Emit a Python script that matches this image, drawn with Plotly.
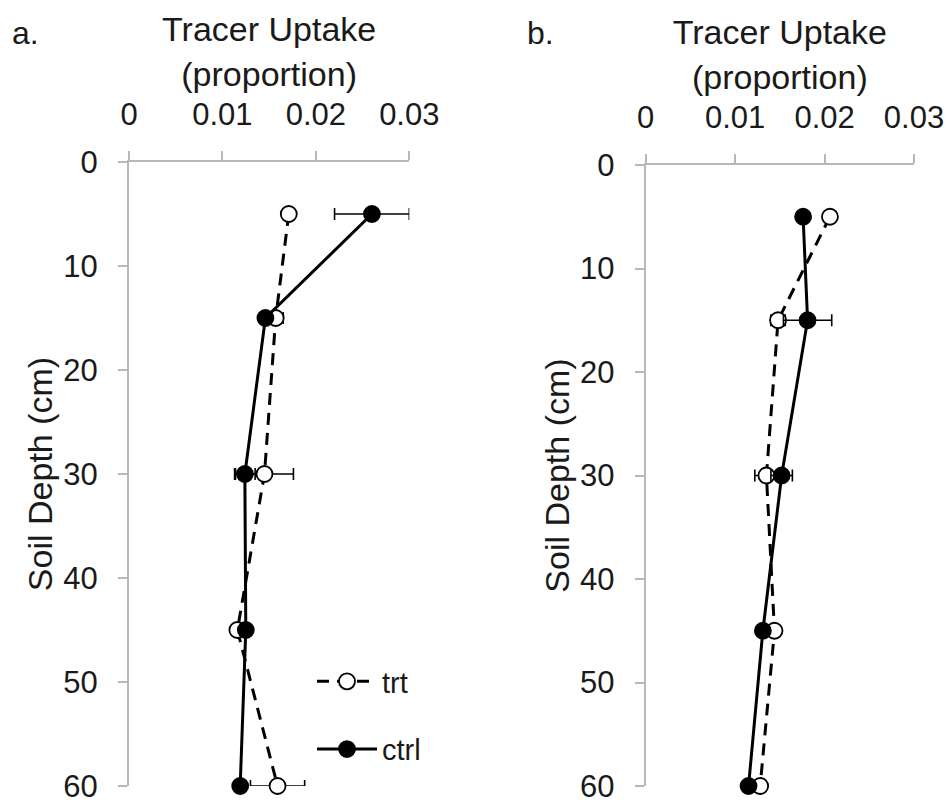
import plotly.graph_objects as go

# ---- data ----
depth = [5, 15, 30, 45, 60]

a_trt = [0.0171, 0.0157, 0.0145, 0.0116, 0.0159]
a_trt_err = [0.0004, 0.0008, 0.0031, 0.0004, 0.0029]
a_ctrl = [0.0260, 0.0146, 0.0124, 0.0125, 0.0119]
a_ctrl_err = [0.0040, 0.0003, 0.0011, 0.0004, 0.0003]

b_trt = [0.0206, 0.0148, 0.0135, 0.0144, 0.0128]
b_trt_err = [0.0003, 0.0008, 0.0013, 0.0005, 0.0003]
b_ctrl = [0.0176, 0.0181, 0.0152, 0.0131, 0.0115]
b_ctrl_err = [0.0002, 0.0027, 0.0012, 0.0003, 0.0002]

x_ticks = [0, 0.01, 0.02, 0.03]
x_ticktext = ["0", "0.01", "0.02", "0.03"]
y_ticks = [0, 10, 20, 30, 40, 50, 60]

FONT = "Liberation Sans, Arial, sans-serif"
TXT = "#1a1a1a"
GRAY = "#b8b8b8"

W, H = 951, 803


def trace(x, err, xa, ya, kind, show):
    filled = kind == "ctrl"
    return go.Scatter(
        x=x, y=depth, xaxis=xa, yaxis=ya,
        mode="lines+markers",
        name=kind,
        legendgroup=kind,
        showlegend=show,
        cliponaxis=False,
        line=dict(color="black", width=3, dash="solid" if filled else "12px,8px"),
        marker=dict(symbol="circle", size=16,
                    color="black" if filled else "white",
                    line=dict(color="black", width=1.8)),
        error_x=dict(type="data", array=err, visible=True,
                     color="black", thickness=1.6, width=6),
    )


fig = go.Figure()
fig.add_trace(trace(a_trt, a_trt_err, "x", "y", "trt", True))
fig.add_trace(trace(a_ctrl, a_ctrl_err, "x", "y", "ctrl", True))
fig.add_trace(trace(b_trt, b_trt_err, "x2", "y2", "trt", False))
fig.add_trace(trace(b_ctrl, b_ctrl_err, "x2", "y2", "ctrl", False))


def xaxis(domain, anchor):
    return dict(
        domain=domain, anchor=anchor, side="top", range=[0, 0.03],
        tickvals=x_ticks, ticktext=x_ticktext,
        ticks="outside", ticklen=9, tickwidth=2, tickcolor=GRAY,
        showline=True, linecolor=GRAY, linewidth=2,
        showgrid=False, zeroline=False, automargin=False,
        ticklabelstandoff=14, ticklabeloverflow="allow",
        tickfont=dict(family=FONT, size=31, color=TXT),
        title=dict(text="Tracer Uptake<br>(proportion)", standoff=0,
                   font=dict(family=FONT, size=34, color=TXT)),
    )


def yaxis(domain, anchor):
    return dict(
        domain=domain, anchor=anchor, range=[60, 0],
        tickvals=y_ticks,
        ticks="outside", ticklen=9, tickwidth=2, tickcolor=GRAY,
        showline=True, linecolor=GRAY, linewidth=2,
        showgrid=False, zeroline=False, automargin=False,
        ticklabelstandoff=14, ticklabeloverflow="allow",
        tickfont=dict(family=FONT, size=31, color=TXT),
        title=dict(text="Soil Depth (cm)", standoff=0,
                   font=dict(family=FONT, size=34, color=TXT)),
    )


fig.update_layout(
    width=W, height=H,
    margin=dict(l=0, r=0, t=0, b=0),
    paper_bgcolor="white", plot_bgcolor="white",
    font=dict(family=FONT, color=TXT),
    xaxis=xaxis([129 / W, 409.3 / W], "y"),
    yaxis=yaxis([(H - 786) / H, (H - 162) / H], "x"),
    xaxis2=xaxis([645.7 / W, 914 / W], "y2"),
    yaxis2=yaxis([(H - 786) / H, (H - 165) / H], "x2"),
    showlegend=True,
    legend=dict(
        x=312 / W, y=1 - 656 / H, xanchor="left", yanchor="top",
        bgcolor="rgba(0,0,0,0)", borderwidth=0,
        font=dict(family=FONT, size=29, color=TXT),
        tracegroupgap=27, itemwidth=60,
    ),
    annotations=[
        dict(text="a.", x=10 / W, y=1 - 33 / H, xref="paper", yref="paper",
             xanchor="left", yanchor="middle", showarrow=False,
             font=dict(family=FONT, size=32, color=TXT)),
        dict(text="b.", x=525 / W, y=1 - 33 / H, xref="paper", yref="paper",
             xanchor="left", yanchor="middle", showarrow=False,
             font=dict(family=FONT, size=32, color=TXT)),
    ],
)

fig.write_html("out.html")
